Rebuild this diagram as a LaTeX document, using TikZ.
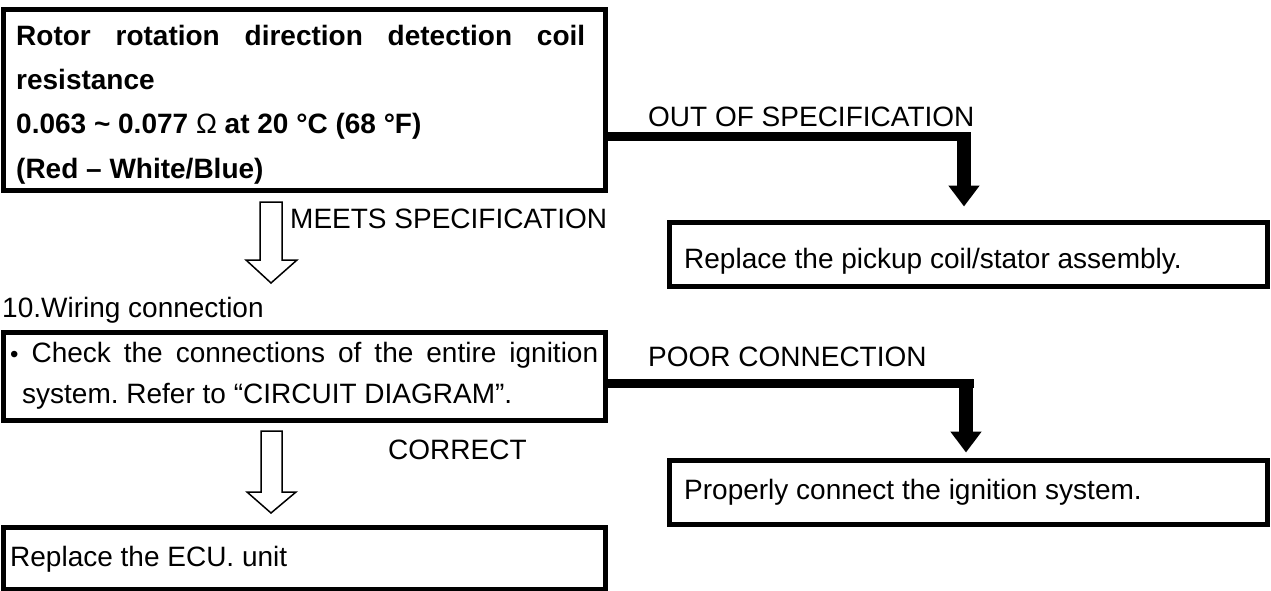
\documentclass[tikz,border=0pt]{standalone}
\usepackage{fontspec}
\setmainfont{Liberation Sans}
\usetikzlibrary{arrows.meta}
\frenchspacing
\begin{document}
\begin{tikzpicture}[x=1pt,y=-1pt,
  box/.style={draw, line width=5pt, inner sep=0pt, minimum width=#1},
  box/.default=602pt,
  txt/.style={anchor=base west, inner sep=0pt, font=\fontsize{28}{34}\selectfont},
  btxt/.style={txt, font=\fontsize{28}{34}\selectfont\bfseries},
  hconn/.style={line width=9pt},
  vconn/.style={line width=14.5pt, -{Triangle[length=21pt,width=30pt]}},
  hollow/.style={draw, line width=1.5pt, fill=white, line join=miter}]
\useasboundingbox (0,0) rectangle (1271,591);
% boxes
\node[box, minimum height=181pt] (b1) at (304,100) {};
\node[box=598pt, minimum height=64pt] (p1) at (968,254) {};
\node[box, minimum height=88pt] (b2) at (304,376) {};
\node[box=598pt, minimum height=64pt] (p2) at (968,492) {};
\node[box, minimum height=62pt] (ecu) at (304,558) {};
% box texts
\node[btxt] (t11) at (16,46) {\makebox[569pt][s]{Rotor rotation direction detection coil}};
\node[btxt] (t12) at (16,90) {resistance};
\node[btxt] (t13) at (16,134) {0.063 \char`~\ 0.077 {\mdseries Ω} at 20 °C (68 °F)};
\node[btxt] (t14) at (16,178) {(Red – White/Blue)};
\node[txt] (tp1) at (684,268) {Replace the pickup coil/stator assembly.};
\node[txt] (t21) at (10,362) {\makebox[588pt][s]{{\fontsize{24}{24}\selectfont•} Check the connections of the entire ignition}};
\node[txt] (t22) at (22,403) {system. Refer to “CIRCUIT DIAGRAM”.};
\node[txt] (tp2) at (684,499) {Properly connect the ignition system.};
\node[txt] (tecu) at (10,566) {Replace the ECU. unit};
% free labels
\node[txt] (l1) at (648,127) {OUT OF SPECIFICATION};
\node[txt] (l2) at (290,228) {MEETS SPECIFICATION};
\node[txt] (l3) at (2,317) {10.Wiring connection};
\node[txt] (l4) at (648,366) {POOR CONNECTION};
\node[txt] (l5) at (388,459) {CORRECT};
% thick connectors
\coordinate (c1) at (964,137);
\draw[hconn] ([yshift=-37pt]b1.east) -- ([xshift=7pt]c1);
\draw[vconn] ([yshift=4.5pt]c1) -- ([yshift=13pt]p1.north -| c1);
\coordinate (c2) at (966,383);
\draw[hconn] ([yshift=-7pt]b2.east) -- ([xshift=7.5pt]c2);
\draw[vconn] ([yshift=4.5pt]c2) -- ([yshift=5pt]p2.north -| c2);
% hollow arrows
\coordinate (a1) at (271,202);
\draw[hollow] (a1) ++(-11,0) -- ++(0,58) -- ++(-14,0) -- ++(25,23) -- ++(26,-23) -- ++(-15,0) -- ++(0,-58) -- cycle;
\coordinate (a2) at (271,431);
\draw[hollow] (a2) ++(-10,0) -- ++(0,61) -- ++(-14,0) -- ++(24,21) -- ++(25,-21) -- ++(-14,0) -- ++(0,-61) -- cycle;
\end{tikzpicture}
\end{document}
